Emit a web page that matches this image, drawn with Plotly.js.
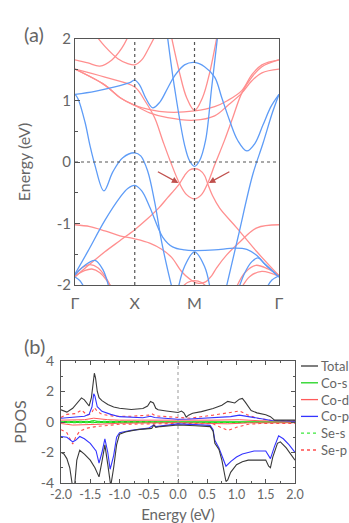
<!DOCTYPE html>
<html>
<head>
<meta charset="utf-8">
<script src="https://cdn.plot.ly/plotly-3.0.1.min.js"></script>
<style>
  html, body { margin: 0; padding: 0; background: #fff; }
  #chart { width: 349px; height: 523px; }
</style>
</head>
<body>
<div id="chart"></div>
<script>
// -------------------- BAND DATA (k along G-X-M-G, energy in eV) --------------------
const kTicks = [0, 1, 2, 3.414];
const kLabels = ["Γ", "X", "M", "Γ"];

// spin channel 1 (blue)
const blue1 = [[0,1.10],[0.333,1.15],[0.667,1.22],[0.917,1.29],[1,1.33],[1.083,1.25],[1.183,1.04],[1.3,0.88],[1.417,0.97],[1.55,1.2],[1.667,1.40],[1.833,1.58],[2,1.62],[2.168,1.55],[2.337,1.38],[2.455,1.05],[2.589,0.67],[2.724,0.35],[2.875,0.18],[3.010,0.30],[3.145,0.60],[3.279,0.90],[3.414,1.10]];
const blue2 = [[0,1.10],[0.05,1.03],[0.167,0.65],[0.25,0.27],[0.333,-0.05],[0.483,-0.47],[0.633,-0.16],[0.8,0.07],[1,0.15],[1.1,0.10],[1.217,-0.15],[1.333,-0.65],[1.45,-1.3],[1.55,-1.75],[1.65,-2.15]];
const blue3 = [[0,-1.82],[0.217,-1.45],[0.5,-0.95],[0.75,-0.58],[0.883,-0.43],[1,-0.38],[1.117,-0.47],[1.25,-0.73],[1.467,-1.22],[1.633,-1.38],[1.833,-1.43],[2,-1.44],[2.337,-1.43],[2.673,-1.40],[2.875,-1.42],[3.044,-1.52],[3.195,-1.68],[3.414,-1.87]];
const blue4 = [[0,-1.84],[0.167,-1.68],[0.333,-1.60],[0.467,-1.75],[0.583,-2.1]];
const blue5 = [[0,-1.87],[0.083,-1.93],[0.183,-2.1]];
const blue6 = [[1.55,2.02],[1.667,1.2],[1.833,0.28],[1.917,0.02],[2,-0.07],[2.084,0.02],[2.185,0.35],[2.286,1.2],[2.387,2.05]];
const blue7 = [[1.717,-2.1],[1.833,-1.7],[2,-1.46],[2.168,-1.7],[2.269,-2.1]];
const blue8 = [[2.505,-2.15],[2.724,-1.24],[2.976,-0.2],[3.145,0.3],[3.296,0.78],[3.414,1.10]];
const blue9 = [[2.724,-2.1],[2.842,-1.8],[2.960,-1.62],[3.061,-1.56],[3.178,-1.66],[3.414,-1.87]];
const blue10 = [[3.414,-1.85],[3.296,-1.92],[3.178,-2.1]];

// spin channel 2 (red)
const red1 = [[0,1.66],[0.217,1.61],[0.417,1.56],[0.617,1.66],[0.783,1.85],[0.917,2.1]];
const red2 = [[0.317,2.1],[0.5,1.88],[0.717,1.68],[0.883,1.6],[1,1.58],[1.117,1.66],[1.233,1.85],[1.367,2.1]];
const red3 = [[0,1.51],[0.5,1.38],[1,1.22],[1.167,1.0],[1.333,0.72],[1.467,0.35],[1.6,0.0],[1.75,-0.35],[1.867,-0.53],[2,-0.6],[2.118,-0.53],[2.219,-0.35],[2.337,-0.05],[2.505,0.36],[2.640,0.72],[2.791,1.12],[2.960,1.38],[3.128,1.55],[3.414,1.66]];
const red4 = [[0,-1.87],[0.25,-1.66],[0.5,-1.46],[0.75,-1.28],[1,-1.10],[1.217,-0.92],[1.4,-0.75],[1.55,-0.58],[1.667,-0.45],[1.75,-0.35],[1.833,-0.22],[1.917,-0.13],[2,-0.11],[2.084,-0.13],[2.168,-0.22],[2.219,-0.35],[2.303,-0.55],[2.421,-0.75],[2.707,-1.07],[3.044,-1.46],[3.414,-1.85]];
const red5 = [[0,1.51],[0.5,1.25],[0.75,1.05],[1,0.92],[1.25,0.85],[1.55,0.81],[2,0.83],[2.337,0.9],[2.556,1.0],[2.791,1.16],[2.960,1.42],[3.128,1.58],[3.414,1.66]];
const red6 = [[0,1.51],[0.5,1.25],[0.75,1.05],[1,0.92],[1.25,0.80],[1.55,0.72],[2,0.68],[2.337,0.75],[2.556,0.92],[2.791,1.12],[2.960,1.32],[3.128,1.45],[3.414,1.51]];
const red7 = [[1.6,2.1],[1.75,1.45],[1.867,1.05],[2,0.84],[2.135,1.05],[2.253,1.45],[2.387,2.1]];
const red8 = [[0,-1.02],[0.25,-1.05],[0.5,-1.12],[0.75,-1.2],[1,-1.25],[1.25,-1.32],[1.45,-1.42],[1.617,-1.55],[1.783,-1.78],[1.917,-1.9],[2.05,-1.97],[2.185,-1.95],[2.286,-1.85],[2.370,-1.72],[2.539,-1.51],[2.758,-1.3],[3.044,-1.07],[3.414,-1.02]];
const red9 = [[1.75,-2.08],[1.883,-1.96],[2,-1.93],[2.118,-1.96],[2.253,-2.08]];
const red10 = [[0,-1.82],[0.117,-1.72],[0.25,-1.67],[0.383,-1.72],[0.517,-1.88],[0.633,-2.1]];
const red11 = [[0,-1.85],[0.15,-1.77],[0.283,-1.74],[0.417,-1.8],[0.55,-1.95],[0.65,-2.1]];
const red12 = [[2.673,-2.1],[2.842,-1.8],[3.027,-1.68],[3.229,-1.74],[3.414,-1.84]];
const red13 = [[2.758,-2.1],[2.926,-1.86],[3.128,-1.78],[3.414,-1.86]];

const blueBands = [blue1, blue2, blue3, blue4, blue5, blue6, blue7, blue8, blue9, blue10];
const redBands = [red1, red2, red3, red4, red5, red6, red7, red8, red9, red10, red11, red12, red13];

// -------------------- PDOS DATA (energy in eV, up > 0, down < 0) --------------------
const totalUpE = [-2.0,-1.95,-1.9,-1.8,-1.72,-1.65,-1.6,-1.55,-1.52,-1.48,-1.45,-1.43,-1.41,-1.38,-1.35,-1.3,-1.2,-1.1,-1.0,-0.8,-0.6,-0.52,-0.47,-0.42,-0.38,-0.34,-0.2,-0.05,0.0,0.06,0.1,0.14,0.18,0.25,0.4,0.6,0.75,0.85,0.92,0.97,1.05,1.1,1.15,1.25,1.35,1.5,1.58,1.65,2.0];
const totalUp  = [0.80,0.70,0.65,0.9,1.3,1.58,1.45,1.15,1.05,1.6,2.8,3.2,2.9,2.0,1.6,1.4,1.15,0.98,0.9,0.82,0.88,1.05,1.35,1.25,0.9,0.8,0.72,0.62,0.62,0.72,0.6,0.32,0.45,0.58,0.68,0.88,1.1,1.35,1.3,1.25,1.5,1.55,1.3,0.75,0.6,0.48,0.35,0.12,0.12];
const totalDnE = [-2.0,-1.95,-1.9,-1.85,-1.8,-1.77,-1.73,-1.68,-1.6,-1.5,-1.42,-1.35,-1.3,-1.25,-1.2,-1.15,-1.1,-1.05,-1.0,-0.9,-0.7,-0.55,-0.45,-0.41,-0.38,-0.3,-0.1,0.0,0.3,0.55,0.6,0.63,0.7,0.75,0.82,0.85,0.9,1.0,1.1,1.2,1.5,1.55,1.58,1.62,1.7,1.75,1.85,1.95,2.0];
const totalDn  = [-2.0,-2.1,-2.4,-3.0,-4.3,-4.3,-2.5,-1.85,-2.1,-2.5,-3.0,-3.6,-2.6,-1.5,-2.8,-4.2,-3.0,-1.5,-0.8,-0.65,-0.5,-0.45,-0.42,-0.2,-0.35,-0.3,-0.22,-0.2,-0.25,-0.3,-0.6,-1.4,-1.8,-2.5,-3.9,-3.8,-3.3,-2.8,-2.6,-2.5,-2.5,-2.9,-3.0,-2.3,-1.4,-1.3,-1.7,-2.2,-2.5];

const coPUpE = [-2.0,-1.8,-1.6,-1.52,-1.47,-1.44,-1.42,-1.38,-1.3,-1.15,-1.0,-0.6,-0.47,-0.4,-0.2,0.0,0.2,0.6,0.9,1.05,1.2,1.4,1.6,2.0];
const coPUp  = [0.25,0.3,0.38,0.5,1.0,1.85,1.7,1.0,0.7,0.5,0.35,0.28,0.38,0.3,0.22,0.18,0.2,0.3,0.35,0.45,0.35,0.2,0.1,0.05];
const coPDnE = [-2.0,-1.9,-1.8,-1.75,-1.68,-1.6,-1.5,-1.4,-1.35,-1.3,-1.25,-1.2,-1.16,-1.1,-1.05,-1.0,-0.8,-0.5,-0.42,-0.38,0.0,0.55,0.6,0.63,0.7,0.75,0.82,0.9,1.0,1.1,1.3,1.5,1.58,1.65,1.72,1.8,1.9,2.0];
const coPDn  = [-0.95,-1.0,-1.3,-1.2,-0.95,-1.1,-1.4,-1.9,-2.7,-2.0,-1.1,-2.0,-3.1,-2.2,-1.0,-0.7,-0.55,-0.4,-0.2,-0.3,-0.12,-0.22,-0.5,-1.2,-1.7,-2.2,-2.9,-2.6,-2.3,-2.1,-1.9,-1.9,-2.4,-1.6,-0.9,-1.1,-1.5,-2.0];

const sePUpE = [-2.0,-1.9,-1.75,-1.65,-1.55,-1.48,-1.43,-1.38,-1.3,-1.1,-0.8,-0.5,-0.45,-0.38,0.0,0.2,0.6,0.9,1.05,1.2,1.35,1.6,2.0];
const sePUp  = [0.3,0.5,0.55,0.78,0.45,0.55,0.95,0.7,0.5,0.38,0.38,0.45,0.55,0.4,0.3,0.25,0.45,0.6,0.72,0.45,0.25,0.1,0.08];
const sePDnE = [-2.0,-1.9,-1.8,-1.75,-1.68,-1.55,-1.4,-1.2,-1.0,0.0,0.6,0.7,0.85,1.0,1.2,1.4,2.0];
const sePDn  = [-0.5,-0.7,-1.45,-1.0,-0.6,-0.4,-0.3,-0.25,-0.15,-0.1,-0.12,-0.3,-0.55,-0.35,-0.15,-0.1,-0.1];

const coDUpE = [-2.0,-1.6,-1.44,-1.2,-1.0,0.0,0.6,1.05,1.4,2.0];
const coDUp  = [0.12,0.15,0.25,0.15,0.12,0.1,0.12,0.15,0.08,0.05];
const coDDnE = [-2.0,-1.8,-1.35,-1.0,0.0,0.85,1.2,2.0];
const coDDn  = [-0.1,-0.2,-0.15,-0.08,-0.05,-0.12,-0.06,-0.05];

const coSUpE = [-2.0,-1.5,-1.44,-1.38,0.0,2.0];
const coSUp  = [0.03,0.04,0.1,0.04,0.02,0.02];
const coSDnE = [-2.0,0.0,2.0];
const coSDn  = [-0.03,-0.02,-0.02];

const seSUpE = [-2.0,-1.44,0.0,2.0];
const seSUp  = [0.03,0.05,0.02,0.02];
const seSDnE = [-2.0,-1.8,0.0,2.0];
const seSDn  = [-0.03,-0.05,-0.02,-0.02];

const pdosNames = ["Total", "Co-s", "Co-d", "Co-p", "Se-s", "Se-p"];
const pdosUpX = [totalUpE, coSUpE, coDUpE, coPUpE, seSUpE, sePUpE];
const pdosUpY = [totalUp, coSUp, coDUp, coPUp, seSUp, sePUp];
const pdosDnX = [totalDnE, coSDnE, coDDnE, coPDnE, seSDnE, sePDnE];
const pdosDnY = [totalDn, coSDn, coDDn, coPDn, seSDn, sePDn];

const pdosXTicks = [-2, -1.5, -1, -0.5, 0, 0.5, 1, 1.5, 2];
const pdosXLabels = ["-2.0", "-1.5", "-1.0", "-0.5", "0.0", "0.5", "1.0", "1.5", "2.0"];
const pdosYTicks = [-4, -2, 0, 2, 4];
const pdosYLabels = ["-4", "-2", "0", "2", "4"];
const bandYTicks = [-2, -1, 0, 1, 2];
const bandYLabels = ["-2", "-1", "0", "1", "2"];

// -------------------- STYLE --------------------
const BLUE = "#5e9cf7";
const RED = "#ff8f8f";
const pdosStyle = [
    { color: "#3a3a3a", dash: "solid", width: 1.1 },
    { color: "#1fd41f", dash: "solid", width: 1.1 },
    { color: "#ff5a5a", dash: "solid", width: 1.0 },
    { color: "#3434ff", dash: "solid", width: 1.1 },
    { color: "#3de83d", dash: "dot", width: 1.2 },
    { color: "#ff4c4c", dash: "dot", width: 1.1 }
];
const FONT = "Lato, Open Sans, sans-serif";
const GREY = "#666";
const AXIS = "#555";

// -------------------- TRACES --------------------
const traces = [];

function addBand(band, color) {
    traces.push({
        x: band.map(p => p[0]),
        y: band.map(p => p[1]),
        xaxis: "x", yaxis: "y",
        mode: "lines",
        line: { color: color, width: 1.3, shape: "spline", smoothing: 1 },
        hoverinfo: "skip",
        showlegend: false
    });
}
redBands.forEach(b => addBand(b, RED));
blueBands.forEach(b => addBand(b, BLUE));

// projected channels first, total last
const drawOrder = [1, 4, 2, 5, 3, 0];
drawOrder.forEach(i => {
    const st = pdosStyle[i];
    [[pdosUpX[i], pdosUpY[i]], [pdosDnX[i], pdosDnY[i]]].forEach(pair => {
        traces.push({
            x: pair[0], y: pair[1],
            xaxis: "x2", yaxis: "y2",
            mode: "lines",
            name: pdosNames[i],
            line: { color: st.color, dash: st.dash, width: st.width },
            hoverinfo: "skip",
            showlegend: false
        });
    });
});

// -------------------- LAYOUT --------------------
const W = 349, H = 523;
const px = v => v / W;
const py = v => 1 - v / H;

const shapes = [
    { type: "line", xref: "x", yref: "y", x0: kTicks[1], x1: kTicks[1], y0: -2, y1: 2, line: { color: AXIS, width: 1.2, dash: "dot" } },
    { type: "line", xref: "x", yref: "y", x0: kTicks[2], x1: kTicks[2], y0: -2, y1: 2, line: { color: AXIS, width: 1.2, dash: "dot" } },
    { type: "line", xref: "x", yref: "y", x0: 0, x1: kTicks[3], y0: 0, y1: 0, line: { color: AXIS, width: 1.2, dash: "dot" } },
    { type: "line", xref: "x2", yref: "y2", x0: 0, x1: 0, y0: -4, y1: 4, line: { color: "#999", width: 1, dash: "dot" } }
];

const annotations = [
    { text: "(a)", xref: "paper", yref: "paper", x: px(22), y: py(20), showarrow: false, font: { family: FONT, size: 20, color: GREY } },
    { text: "(b)", xref: "paper", yref: "paper", x: px(22), y: py(346), showarrow: false, font: { family: FONT, size: 20, color: GREY } },
    { xref: "x", yref: "y", x: 1.73, y: -0.34, ax: -22, ay: -12, text: "", showarrow: true, arrowhead: 2, arrowsize: 1, arrowwidth: 1.3, arrowcolor: "#c0504d" },
    { xref: "x", yref: "y", x: 2.24, y: -0.34, ax: 22, ay: -12, text: "", showarrow: true, arrowhead: 2, arrowsize: 1, arrowwidth: 1.3, arrowcolor: "#c0504d" }
];

// PDOS legend with short line samples, as in the original figure
const legendTop = 366, legendStep = 16.8;
pdosNames.forEach((name, i) => {
    const yy = py(legendTop + i * legendStep);
    const st = pdosStyle[i];
    shapes.push({ type: "line", xref: "paper", yref: "paper", x0: px(301), x1: px(318), y0: yy, y1: yy,
        line: { color: st.color, width: 1.3, dash: st.dash } });
    annotations.push({ text: name, xref: "paper", yref: "paper", x: px(319), y: yy, xanchor: "left", yanchor: "middle",
        showarrow: false, font: { family: FONT, size: 13, color: GREY } });
});

const layout = {
    width: W, height: H,
    margin: { l: 0, r: 0, t: 0, b: 0 },
    paper_bgcolor: "#fff", plot_bgcolor: "#fff",
    font: { family: FONT, color: GREY, size: 12 },
    showlegend: false,
    xaxis: {
        domain: [px(75), px(279)], range: [0, kTicks[3]], anchor: "y",
        tickmode: "array", tickvals: kTicks, ticktext: kLabels,
        ticks: "", tickfont: { size: 16, color: GREY }, ticklabelstandoff: 4,
        showline: true, mirror: true, linecolor: AXIS, linewidth: 1,
        showgrid: false, zeroline: false
    },
    yaxis: {
        domain: [py(285), py(39)], range: [-2, 2], anchor: "x",
        tickmode: "array", tickvals: bandYTicks, ticktext: bandYLabels,
        ticks: "inside", ticklen: 5, tickcolor: AXIS,
        minor: { tickmode: "linear", tick0: 0, dtick: 0.5, ticks: "inside", ticklen: 3, tickcolor: AXIS },
        tickfont: { size: 15, color: GREY },
        showline: true, mirror: true, linecolor: AXIS, linewidth: 1,
        showgrid: false, zeroline: false,
        title: { text: "Energy (eV)", font: { size: 16, color: GREY }, standoff: 22 }
    },
    xaxis2: {
        domain: [px(61), px(295)], range: [-2, 2], anchor: "y2",
        tickmode: "array", tickvals: pdosXTicks, ticktext: pdosXLabels,
        ticks: "inside", ticklen: 4, tickcolor: AXIS, ticklabelstandoff: 0,
        minor: { tickmode: "linear", tick0: 0, dtick: 0.25, ticks: "inside", ticklen: 2, tickcolor: AXIS },
        tickfont: { size: 12.5, color: GREY },
        showline: true, mirror: "allticks", linecolor: AXIS, linewidth: 1,
        showgrid: false, zeroline: false,
        title: { text: "Energy (eV)", font: { size: 15, color: GREY }, standoff: 9 }
    },
    yaxis2: {
        domain: [py(483), py(361)], range: [-4, 4], anchor: "x2",
        tickmode: "array", tickvals: pdosYTicks, ticktext: pdosYLabels,
        ticks: "inside", ticklen: 4, tickcolor: AXIS, ticklabelstandoff: 3,
        minor: { tickmode: "linear", tick0: 0, dtick: 1, ticks: "inside", ticklen: 2, tickcolor: AXIS },
        tickfont: { size: 14, color: GREY },
        showline: true, mirror: "allticks", linecolor: AXIS, linewidth: 1,
        showgrid: false, zeroline: false,
        title: { text: "PDOS", font: { size: 16, color: GREY }, standoff: 10 }
    },
    shapes: shapes,
    annotations: annotations
};

Plotly.newPlot("chart", traces, layout, { staticPlot: true, displayModeBar: false });
</script>
</body>
</html>
